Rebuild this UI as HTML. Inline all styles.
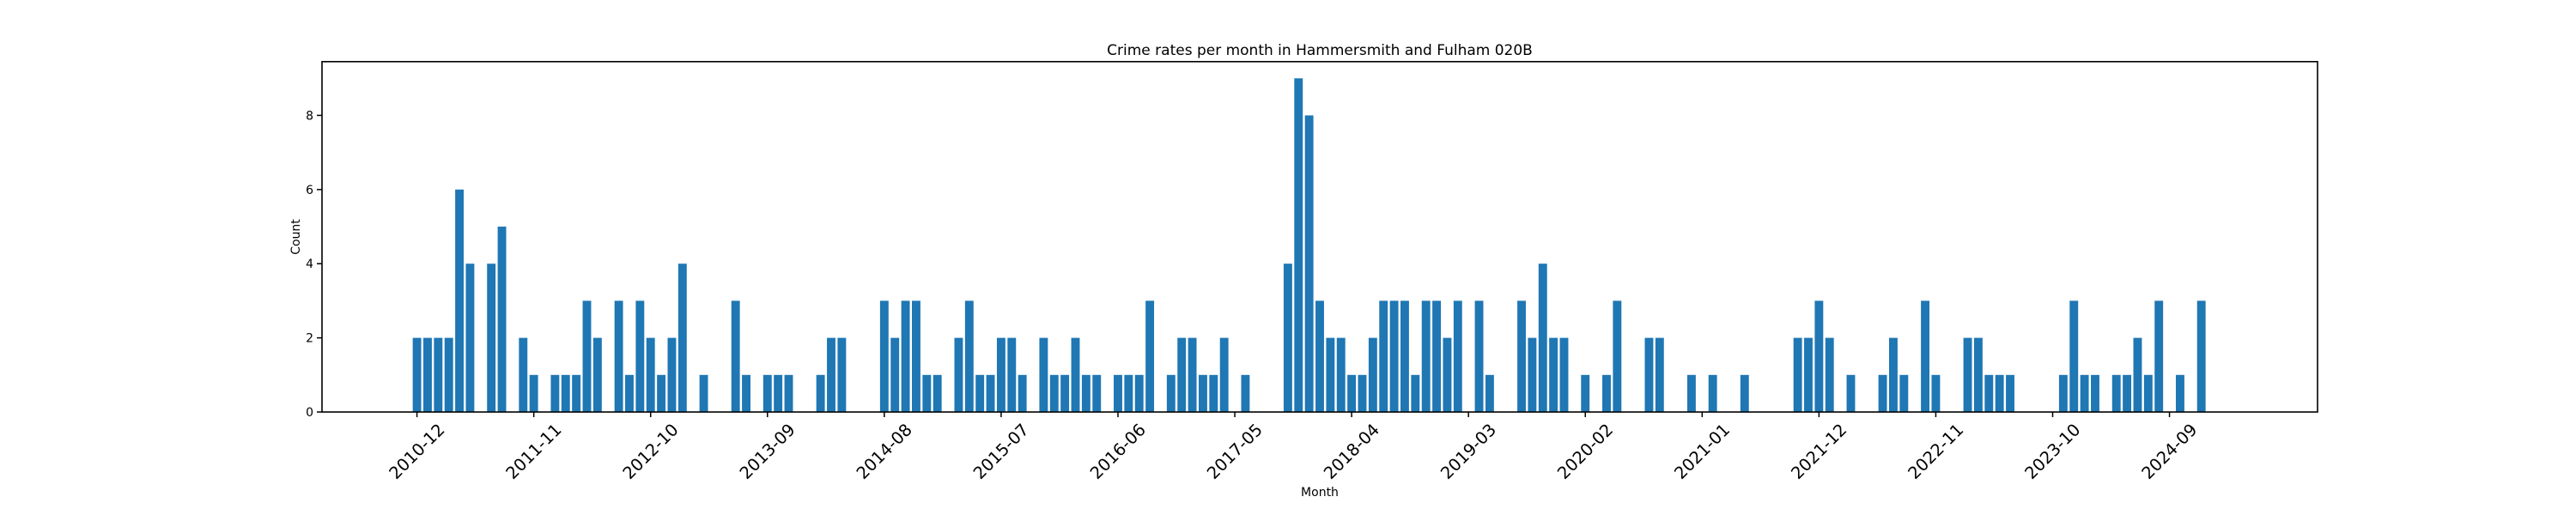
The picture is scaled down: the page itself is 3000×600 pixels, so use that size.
<!DOCTYPE html>
<html><head><meta charset="utf-8"><style>
html,body{margin:0;padding:0;background:#fff;}
svg{display:block;font-family:"DejaVu Sans","Liberation Sans",sans-serif;}
</style></head>
<body>
<svg id="chart" width="3000" height="600" viewBox="0 0 3000 600" xmlns="http://www.w3.org/2000/svg">
<rect width="3000" height="600" fill="#fff"/>
<text x="1537" y="64" font-size="17" text-anchor="middle" fill="#000">Crime rates per month in Hammersmith and Fulham 020B</text>
<g id="bars"></g>
<g id="xticks"></g>
<g id="yticks"></g>
<rect x="375" y="71.8" width="2324" height="408.2" fill="none" stroke="#000" stroke-width="1.6"/>
<text x="1537" y="578" font-size="14" text-anchor="middle" fill="#000">Month</text>
<text x="0" y="0" font-size="14" text-anchor="middle" fill="#000" transform="translate(349,276) rotate(-90)">Count</text>
</svg>
<script>
const values = [
2,2,2,2,6,4,0,4,5,0,
2,1,0,1,1,1,3,2,0,3,
1,3,2,1,2,4,0,1,0,0,
3,1,0,1,1,1,0,0,1,2,
2,0,0,0,3,2,3,3,1,1,
0,2,3,1,1,2,2,1,0,2,
1,1,2,1,1,0,1,1,1,3,
0,1,2,2,1,1,2,0,1,0,
0,0,4,9,8,3,2,2,1,1,
2,3,3,3,1,3,3,2,3,0,
3,1,0,0,3,2,4,2,2,0,
1,0,1,3,0,0,2,2,0,0,
1,0,1,0,0,1,0,0,0,0,
2,2,3,2,0,1,0,0,1,2,
1,0,3,1,0,0,2,2,1,1,
1,0,0,0,0,1,3,1,1,0,
1,1,2,1,3,0,1,0,3,0,
0];
const tickLabels = ["2010-12","2011-11","2012-10","2013-09","2014-08","2015-07","2016-06","2017-05","2018-04","2019-03","2020-02","2021-01","2021-12","2022-11","2023-10","2024-09"];
const tickIndices = [0,11,22,33,44,55,66,77,88,99,110,121,132,143,154,165];
const yTicks = [0,2,4,6,8];

const NS = "http://www.w3.org/2000/svg";
const PL = 375, PR = 2699, PT = 71.8, PB = 480;
const xMin = -8.94, xMax = 178.94, yMax = 9.45;
function xScale(i){ return PL + (i - xMin) / (xMax - xMin) * (PR - PL); }
function yScale(v){ return PB - v / yMax * (PB - PT); }
const bw = 0.8 * (PR - PL) / (xMax - xMin);

const barsG = document.getElementById('bars');
values.forEach((v, i) => {
  if (v <= 0) return;
  const r = document.createElementNS(NS, 'rect');
  
  
  r.setAttribute('x', xScale(i) - bw / 2);
  r.setAttribute('y', yScale(v));
  r.setAttribute('width', bw);
  r.setAttribute('height', yScale(0) - yScale(v));
  r.setAttribute('fill', '#1f77b4');
  barsG.appendChild(r);
});

const xg = document.getElementById('xticks');
tickIndices.forEach((idx, k) => {
  const x = xScale(idx);
  const l = document.createElementNS(NS, 'line');
  
  
  l.setAttribute('x1', x); l.setAttribute('x2', x);
  l.setAttribute('y1', PB); l.setAttribute('y2', PB + 6);
  l.setAttribute('stroke', '#000'); l.setAttribute('stroke-width', '1.5');
  xg.appendChild(l);
  const t = document.createElementNS(NS, 'text');
  
  
  t.setAttribute('x', x); t.setAttribute('y', 526);
  t.setAttribute('font-size', '19.5');
  t.setAttribute('text-anchor', 'middle');
  t.setAttribute('dominant-baseline', 'central');
  t.setAttribute('transform', 'rotate(-45 ' + x + ' 526)');
  t.textContent = tickLabels[k];
  xg.appendChild(t);
});

const yg = document.getElementById('yticks');
yTicks.forEach(v => {
  const y = yScale(v);
  const l = document.createElementNS(NS, 'line');
  
  
  l.setAttribute('x1', PL - 6); l.setAttribute('x2', PL);
  l.setAttribute('y1', y); l.setAttribute('y2', y);
  l.setAttribute('stroke', '#000'); l.setAttribute('stroke-width', '1.5');
  yg.appendChild(l);
  const t = document.createElementNS(NS, 'text');
  
  
  t.setAttribute('x', PL - 10); t.setAttribute('y', y + 5);
  t.setAttribute('font-size', '14');
  t.setAttribute('text-anchor', 'end');
  t.textContent = v;
  yg.appendChild(t);
});
</script>
</body></html>
